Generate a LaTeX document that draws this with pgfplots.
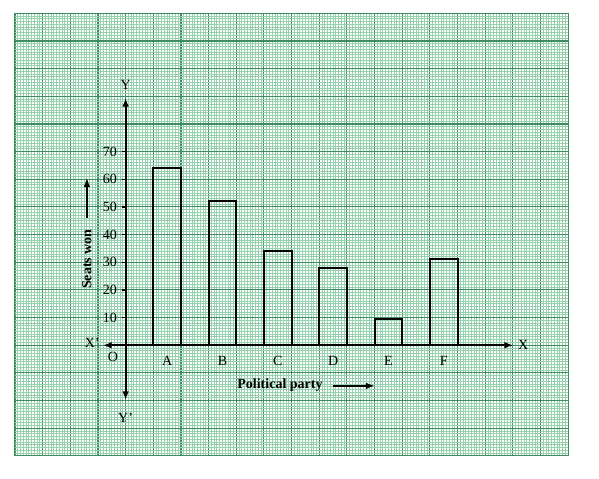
\documentclass[border=0pt]{standalone}
\usepackage{pgfplots}
\pgfplotsset{compat=1.18}
\usepackage{fontspec}
\setmainfont{Liberation Serif}
\usetikzlibrary{arrows.meta}
\definecolor{gmaj}{HTML}{3F8C63}
\definecolor{gmin}{HTML}{96D0AC}
\begin{document}
\begin{tikzpicture}
% graph paper
\begin{axis}[
  x=20.745pt, y=2.0745pt,
  at={(0,0)}, anchor=origin,
  xmin=-4, xmax=16, ymin=-40, ymax=120,
  xtick={-4,-3,...,16}, ytick={-40,-30,...,120},
  minor x tick num=9, minor y tick num=9,
  grid=both,
  major grid style={gmaj, line width=0.85pt},
  minor grid style={gmin, line width=0.65pt},
  axis line style={draw=none},
  tick style={draw=none},
  xticklabels={}, yticklabels={},
  clip=false,
]
\path (axis cs:-4.542,-48.36) rectangle (axis cs:17.114,124.81);
\end{axis}
% chart
\begin{axis}[
  x=20.745pt, y=2.0745pt,
  at={(0,0)}, anchor=origin,
  axis lines=middle,
  xmin=-0.82, xmax=14.01, ymin=-19.8, ymax=89.4,
  axis line style={line width=1.5pt, {Latex[length=6.5pt,width=5pt]}-{Latex[length=6.5pt,width=5pt]}},
  ytick={10,20,...,70},
  xtick={1.5,3.5,5.5,7.5,9.5,11.5},
  xticklabels={A,B,C,D,E,F},
  x tick style={draw=none},
  y tick style={black, line width=1pt},
  tick align=outside, major tick length=3pt,
  ticklabel style={font=\fontsize{10.5}{12}\selectfont},
  x tick label style={yshift=-1.5pt},
  /pgf/number format/assume math mode=true,
  clip=false,
]
\addplot[ybar, bar width=1, draw=black, line width=1.5pt, fill=none]
  coordinates {(1.5,64) (3.5,52) (5.5,34) (7.5,28) (9.5,9.5) (11.5,31)};
\node[font=\fontsize{10.5}{12}\selectfont] at (axis cs:0,94.1) {Y};
\node[font=\fontsize{10.5}{12}\selectfont] at (axis cs:0,-26.3) {Y'};
\node[font=\fontsize{10.5}{12}\selectfont] at (axis cs:14.37,0) {X};
\node[font=\fontsize{10.5}{12}\selectfont] at (axis cs:-1.21,0.8) {X'};
\node[font=\fontsize{10.5}{12}\selectfont] at (axis cs:-0.46,-4.3) {O};
\node[rotate=90, font=\fontsize{10.5}{12}\selectfont\bfseries] at (axis cs:-1.40,31.1) {Seats won};
\draw[line width=1.5pt, -{Latex[length=7pt,width=5pt]}] (axis cs:-1.40,46) -- (axis cs:-1.40,60.6);
\node[font=\fontsize{10.5}{12}\selectfont\bfseries] at (axis cs:5.58,-14.4) {Political party};
\draw[line width=1.5pt, -{Latex[length=7pt,width=5pt]}] (axis cs:7.5,-14.7) -- (axis cs:9.02,-14.7);
\end{axis}
\end{tikzpicture}
\end{document}
